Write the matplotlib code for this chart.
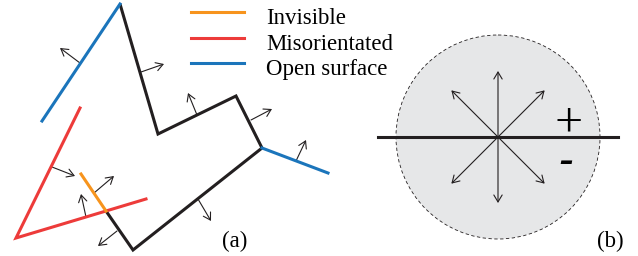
import matplotlib
matplotlib.use("Agg")
import matplotlib.pyplot as plt
from matplotlib.patches import Circle, FancyArrowPatch
import numpy as np

# polylines in (a), pixel coordinates of the original figure
black_x = [120, 158, 236, 262, 133, 106]
black_y = [4, 134, 96, 148, 250, 211]
blue1_x = [42, 120]
blue1_y = [121, 4]
blue2_x = [262, 328]
blue2_y = [148, 173]
red_x = [80, 16, 146]
red_y = [108, 238, 199]
orange_x = [81, 106]
orange_y = [174, 211]

# normal arrows (start, end)
normals = [
    ((80, 63), (60, 48)),
    ((141, 72), (164, 64)),
    ((197, 115), (188, 93)),
    ((251, 120), (272, 109)),
    ((296, 161), (306, 140)),
    ((198, 199), (211, 221)),
    ((117, 231), (98, 246)),
    ((52, 167), (75, 176)),
    ((94, 193), (114, 176)),
    ((86, 217), (81, 194)),
]

legend_labels = ["Invisible", "Misorientated", "Open surface"]
legend_colors = ["#f7941d", "#ed3b3a", "#1b75bb"]
legend_y = [12, 38, 63]

# panel (b)
circle_center = (498, 137)
circle_radius = 102
dir_angles = [45, 90, 135, 225, 270, 315]
dir_length = 66

fig = plt.figure(figsize=(6.38, 2.56), dpi=100)
ax = fig.add_axes([0, 0, 1, 1])
ax.set_xlim(0, 638)
ax.set_ylim(256, 0)
ax.axis("off")

serif = "Liberation Serif"
fs = 16.5
lw = 2.2
ink = "#231f20"
arrow_style = "->,head_length=5,head_width=3"

ax.plot(black_x, black_y, color=ink, lw=lw, solid_joinstyle="miter", solid_capstyle="butt")
ax.plot(blue1_x, blue1_y, color=legend_colors[2], lw=lw)
ax.plot(blue2_x, blue2_y, color=legend_colors[2], lw=lw)
ax.plot(red_x, red_y, color=legend_colors[1], lw=lw, solid_joinstyle="miter")
ax.plot(orange_x, orange_y, color=legend_colors[0], lw=lw)

for (s, e) in normals:
    ax.add_patch(FancyArrowPatch(s, e, arrowstyle=arrow_style,
                                 color=ink, lw=0.8, shrinkA=0, shrinkB=0))

# legend
for lab, col, y in zip(legend_labels, legend_colors, legend_y):
    ax.plot([191, 244], [y, y], color=col, lw=lw)
    ax.text(266, y + 12, lab, fontsize=fs, family=serif, va="baseline", ha="left")

ax.text(235, 241, "(a)", fontsize=fs, family=serif, va="center", ha="center")

# panel (b)
ax.add_patch(Circle(circle_center, circle_radius, facecolor="#e6e7e8", edgecolor=ink,
                    lw=0.6, ls=(0, (4, 3))))
ax.plot([378, 618], [137, 137], color=ink, lw=lw)
cx, cy = circle_center
for a in dir_angles:
    ex = cx + dir_length * np.cos(np.radians(a))
    ey = cy - dir_length * np.sin(np.radians(a))
    ax.add_patch(FancyArrowPatch((cx, cy), (ex, ey), arrowstyle=arrow_style,
                                 color=ink, lw=0.8, shrinkA=0, shrinkB=0))
ax.text(569, 119, "+", fontsize=36, family=serif, va="center_baseline", ha="center")
ax.text(566, 159, "–", fontsize=20, family="DejaVu Sans", fontweight="bold",
        fontstyle="italic", va="center_baseline", ha="center")
ax.text(610, 241, "(b)", fontsize=fs, family=serif, va="center", ha="center")

fig.savefig("out.png", dpi=100)
